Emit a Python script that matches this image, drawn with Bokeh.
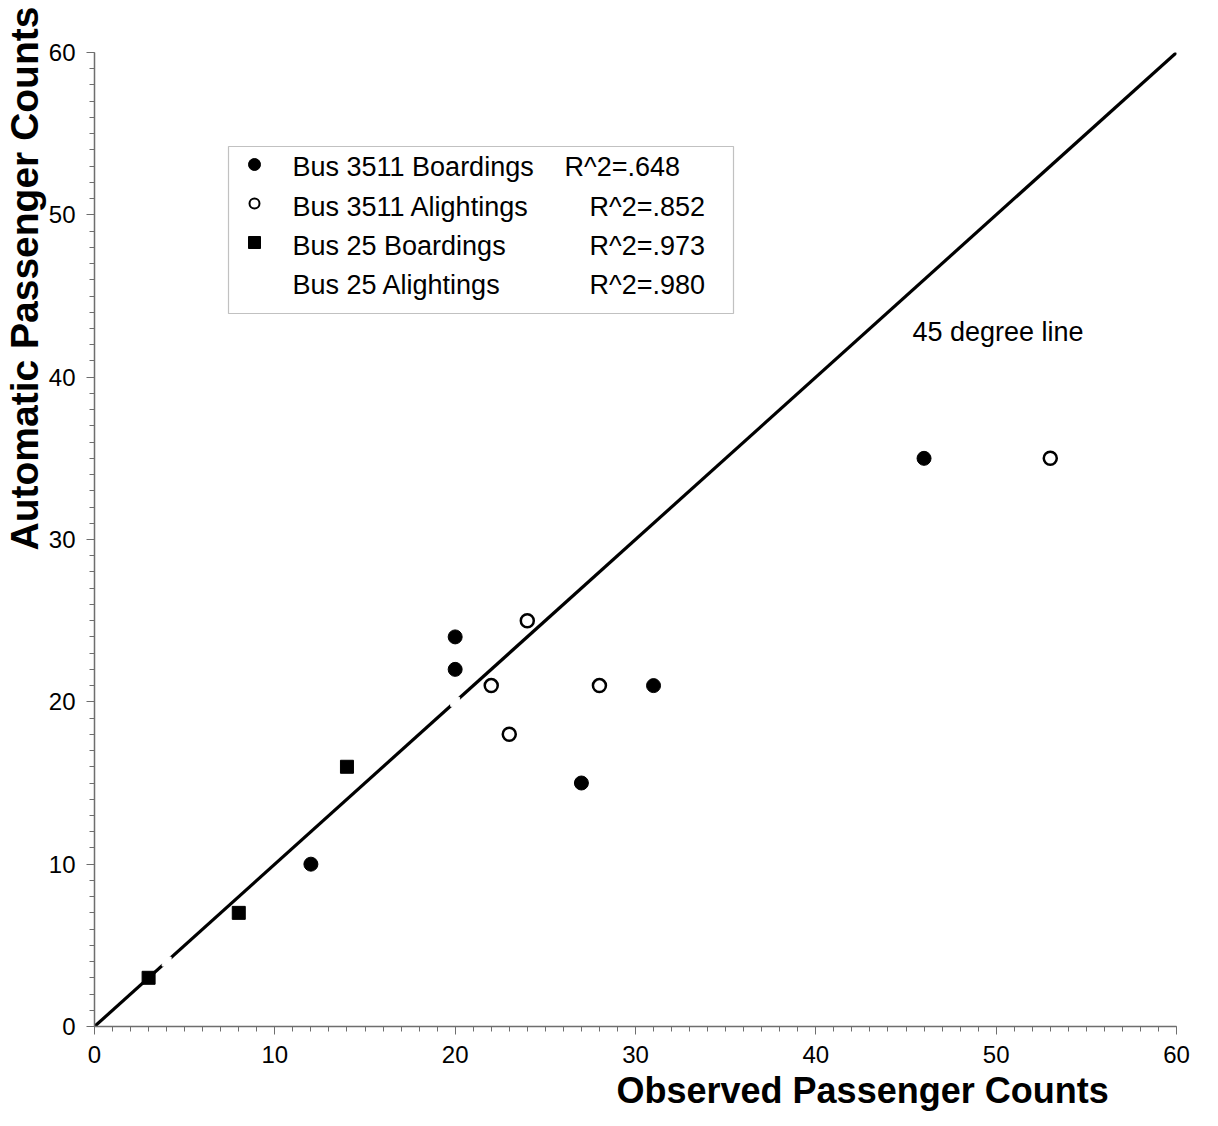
from bokeh.plotting import figure
from bokeh.models import Range1d, SingleIntervalTicker, Label, BoxAnnotation, Title
from bokeh.embed import file_html
from bokeh.resources import INLINE

# ---- data ----
b3511_board_x = [46, 20, 20, 31, 27, 12]
b3511_board_y = [35, 24, 22, 21, 15, 10]
b3511_alight_x = [53, 24, 22, 28, 23]
b3511_alight_y = [35, 25, 21, 21, 18]
b25_board_x = [3, 8, 14]
b25_board_y = [3, 7, 16]
b25_alight_x = [4, 20]
b25_alight_y = [4, 20]
line45_x = [0, 60]
line45_y = [0, 60]

series_names = ["Bus 3511 Boardings", "Bus 3511 Alightings", "Bus 25 Boardings", "Bus 25 Alightings"]
r2_texts = ["R^2=.648", "R^2=.852", "R^2=.973", "R^2=.980"]

FONT = "Liberation Sans"

# frame geometry (reference pixels)
X0, X1 = 93, 1175
Y0, Y1 = 1026, 52


def dx(px):
    return (px - X0) / (X1 - X0) * 60


def dy(py):
    return (Y0 - py) / (Y0 - Y1) * 60


p = figure(width=1210, height=1118, output_backend="svg", toolbar_location=None,
           x_range=Range1d(0, 60), y_range=Range1d(0, 60),
           frame_width=X1 - X0, frame_height=Y0 - Y1,
           min_border_left=X0, min_border_top=Y1, min_border_right=35, min_border_bottom=92)
p.outline_line_color = None
p.grid.grid_line_color = None
p.background_fill_color = "white"
p.border_fill_color = "white"

for ax in (p.xaxis[0], p.yaxis[0]):
    ax.ticker = SingleIntervalTicker(interval=10, num_minor_ticks=10)
    ax.axis_line_color = "#6e6e6e"
    ax.axis_line_width = 1.5
    ax.major_tick_line_color = "#6e6e6e"
    ax.minor_tick_line_color = "#6e6e6e"
    ax.major_tick_in = 0
    ax.major_tick_out = 8
    ax.minor_tick_in = 0
    ax.minor_tick_out = 5
    ax.major_label_text_font = FONT
    ax.major_label_text_font_size = "24px"
    ax.major_label_text_color = "black"
    ax.major_label_standoff = 11

# axis titles
p.add_layout(Title(text="Automatic Passenger Counts", text_font=FONT, text_font_size="39px",
                   text_font_style="bold", text_color="black", align="left",
                   offset=Y0 - 550, standoff=0), "left")
p.add_layout(Title(text="Observed Passenger Counts", text_font=FONT, text_font_size="36px",
                   text_font_style="bold", text_color="black", align="left",
                   offset=615 - X0, standoff=5), "below")

# 45 degree line
p.line(line45_x, line45_y, line_color="black", line_width=3.2)

# data markers
p.scatter(b3511_board_x, b3511_board_y, marker="circle", size=14,
          fill_color="black", line_color="black")
p.scatter(b3511_alight_x, b3511_alight_y, marker="circle", size=13,
          fill_color="white", line_color="black", line_width=2.5)
p.scatter(b25_board_x, b25_board_y, marker="square", size=13,
          fill_color="black", line_color="black")
p.scatter(b25_alight_x, b25_alight_y, marker="square", size=9,
          fill_color="white", line_color="white")

# legend box
box = BoxAnnotation(left=dx(227), right=dx(732), top=dy(146), bottom=dy(313),
                    fill_color="white", fill_alpha=1.0, line_color="#333333", line_width=1.2,
                    level="underlay")
p.add_layout(box)

row_py = [166, 206, 245, 284]
sym_x = dx(253)
p.scatter([sym_x], [dy(164)], marker="circle", size=12, fill_color="black",
          line_color="black", level="overlay")
p.scatter([sym_x], [dy(203)], marker="circle", size=10, fill_color="white",
          line_color="black", line_width=2, level="overlay")
p.scatter([sym_x], [dy(242)], marker="square", size=12, fill_color="black",
          line_color="black", level="overlay")

r2_px = [563, 588, 588, 588]
for i in range(4):
    p.add_layout(Label(x=dx(291), y=dy(row_py[i]), text=series_names[i],
                       text_font=FONT, text_font_size="27px", text_color="black",
                       text_baseline="middle", text_align="left"))
    p.add_layout(Label(x=dx(r2_px[i]), y=dy(row_py[i]), text=r2_texts[i],
                       text_font=FONT, text_font_size="27px", text_color="black",
                       text_baseline="middle", text_align="left"))

# 45 degree line annotation
p.add_layout(Label(x=dx(911), y=dy(331), text="45 degree line", text_font=FONT,
                   text_font_size="27px", text_color="black",
                   text_baseline="middle", text_align="left"))

open("out.html", "w").write(file_html(p, INLINE))
